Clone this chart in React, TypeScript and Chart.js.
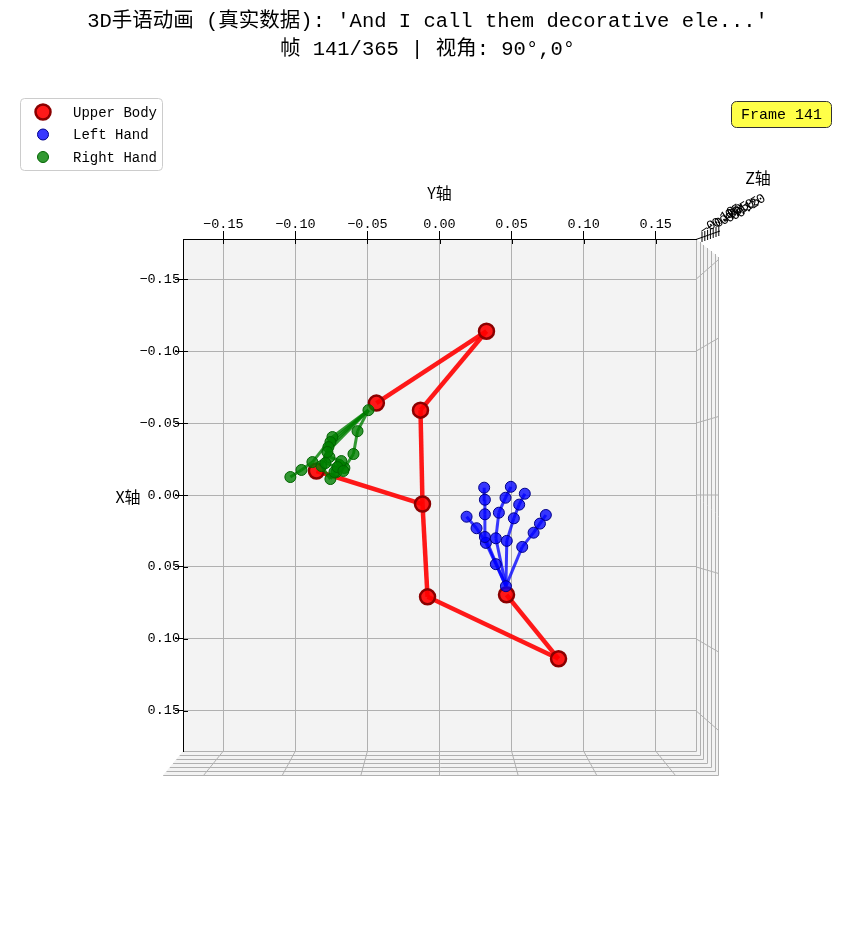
import React, { useEffect, useRef } from "react";
import { Chart, registerables } from "chart.js";

Chart.register(...registerables);

// ---------- data ----------
const titleLines = ["3D手语动画 (真实数据): 'And I call them decorative ele...'", "帧 141/365 | 视角: 90°,0°"];
const frameLabel = "Frame 141";
const legendLabels = ["Upper Body", "Left Hand", "Right Hand"];
const axisTitleH = "Y轴";
const axisTitleV = "X轴";
const axisTitleZ = "Z轴";
const tickValues = [-0.15, -0.1, -0.05, 0, 0.05, 0.1, 0.15];
const zTickLabels = ["−0.10", "−0.05", "0.00", "0.05", "0.10", "0.15", "0.20"];
const axisMin = -0.178;
const axisMax = 0.178;

// horizontal axis = Y, vertical axis = X
const bodyY = [0.0326, -0.0438, -0.0132, -0.0118, -0.0854, -0.0083, 0.0826, 0.0465];
const bodyX = [-0.1139, -0.0639, -0.059, 0.0063, -0.0167, 0.0708, 0.1139, 0.0694];
const bodyEdges = [[0, 1], [0, 2], [2, 3], [3, 4], [3, 5], [5, 6], [6, 7]];

const leftY = [0.0461, 0.0391, 0.0322, 0.0257, 0.0188, 0.0315, 0.0315, 0.0315, 0.031, 0.0391, 0.0412, 0.0458, 0.0495, 0.0467, 0.0516, 0.0553, 0.0592, 0.0574, 0.0653, 0.0697, 0.0738];
const leftX = [0.0634, 0.0481, 0.0333, 0.0231, 0.0151, 0.0292, 0.0134, 0.0033, -0.0051, 0.0301, 0.0123, 0.0019, -0.0057, 0.0319, 0.0162, 0.0067, -0.0009, 0.0361, 0.0262, 0.0199, 0.0139];

const rightY = [-0.0493, -0.0569, -0.0597, -0.066, -0.0715, -0.0743, -0.0882, -0.0958, -0.1035, -0.0757, -0.0819, -0.0757, -0.0694, -0.0771, -0.0764, -0.0681, -0.0729, -0.0778, -0.0792, -0.0708, -0.0667];
const rightX = [-0.059, -0.0444, -0.0285, -0.0188, -0.016, -0.0403, -0.0229, -0.0174, -0.0125, -0.0368, -0.0201, -0.0111, -0.0208, -0.0333, -0.0264, -0.0236, -0.016, -0.0299, -0.0222, -0.0194, -0.0167];

const handEdges = [
  [0, 1], [1, 2], [2, 3], [3, 4],
  [0, 5], [5, 6], [6, 7], [7, 8],
  [0, 9], [9, 10], [10, 11], [11, 12],
  [0, 13], [13, 14], [14, 15], [15, 16],
  [0, 17], [17, 18], [18, 19], [19, 20],
];

// ---------- styles ----------
const MONO = "'Liberation Mono', 'DejaVu Sans Mono', 'Noto Sans CJK SC', monospace";
const CJK = "'Noto Sans CJK SC', 'Liberation Mono', sans-serif";
const RED = "rgba(255,0,0,0.9)";
const BLUE = "rgba(0,0,255,0.78)";
const GREEN = "rgba(0,128,0,0.8)";
const PANE = "#f3f3f3";
const GRID = "#b0b0b0";

const W = 839;
const H = 916;

function fmt(v: number) {
  if (Math.abs(v) < 1e-9) return "0.00";
  return v.toFixed(2).replace("-", "−");
}

function pts(ys: number[], xs: number[]) {
  return ys.map((y, i) => ({ x: y, y: xs[i] }));
}

function edgeSets(ys: number[], xs: number[], edges: number[][], color: string, width: number, order: number) {
  return edges.map(([a, b]) => ({
    label: "",
    data: [{ x: ys[a], y: xs[a] }, { x: ys[b], y: xs[b] }],
    showLine: true,
    borderColor: color,
    borderWidth: width,
    pointRadius: 0,
    pointHoverRadius: 0,
    order,
  }));
}

const decorPlugin = {
  id: "decor",
  beforeDraw(chart: any) {
    const { ctx, chartArea: a, scales } = chart;
    ctx.save();
    const n = 6;
    ctx.fillStyle = PANE;
    ctx.beginPath();
    ctx.moveTo(a.left, a.bottom);
    ctx.lineTo(a.right, a.bottom);
    ctx.lineTo(a.right + 3.7 * n, a.bottom + 4 * n);
    ctx.lineTo(a.left - 3.3 * n, a.bottom + 4 * n);
    ctx.closePath();
    ctx.fill();
    ctx.beginPath();
    ctx.moveTo(a.right, a.top);
    ctx.lineTo(a.right + 3.7 * n, a.top + 3 * n);
    ctx.lineTo(a.right + 3.7 * n, a.bottom + 4 * n);
    ctx.lineTo(a.right, a.bottom);
    ctx.closePath();
    ctx.fill();
    ctx.fillRect(a.left, a.top, a.right - a.left, a.bottom - a.top);

    ctx.strokeStyle = GRID;
    ctx.lineWidth = 1;
    ctx.beginPath();
    ctx.moveTo(a.right + 0.5, a.top);
    ctx.lineTo(a.right + 0.5, a.bottom + 0.5);
    ctx.lineTo(a.left, a.bottom + 0.5);
    ctx.stroke();
    for (let i = 1; i <= n; i++) {
      const yy = Math.round(a.bottom + 4 * i) + 0.5;
      const xr = Math.round(a.right + 3.7 * i) + 0.5;
      ctx.beginPath();
      ctx.moveTo(a.left - 3.3 * i, yy);
      ctx.lineTo(xr, yy);
      ctx.lineTo(xr, a.top + 3 * i);
      ctx.stroke();
    }
    const cx = (a.left + a.right) / 2;
    const cy = (a.top + a.bottom) / 2;
    tickValues.forEach((v) => {
      const px = scales.x.getPixelForValue(v);
      ctx.beginPath();
      ctx.moveTo(px, a.bottom);
      ctx.lineTo(px + (px - cx) * 0.09, a.bottom + 4 * n);
      ctx.stroke();
      const py = scales.y.getPixelForValue(v);
      ctx.beginPath();
      ctx.moveTo(a.right, py);
      ctx.lineTo(a.right + 3.7 * n, py + (py - cy) * 0.09);
      ctx.stroke();
    });
    ctx.restore();
  },
  afterDraw(chart: any) {
    const { ctx, chartArea: a, scales } = chart;
    ctx.save();
    ctx.fillStyle = "#000";
    ctx.textAlign = "center";
    ctx.textBaseline = "middle";
    ctx.font = `20.5px ${MONO}`;
    ctx.fillText(titleLines[0], W / 2, 14);
    ctx.fillText(titleLines[1], W / 2, 42);

    ctx.strokeStyle = "#000";
    ctx.lineWidth = 1;
    tickValues.forEach((v) => {
      const px = Math.round(scales.x.getPixelForValue(v)) + 0.5;
      ctx.beginPath();
      ctx.moveTo(px, a.top);
      ctx.lineTo(px, a.top + 5);
      ctx.stroke();
      const py = Math.round(scales.y.getPixelForValue(v)) + 0.5;
      ctx.beginPath();
      ctx.moveTo(a.left, py);
      ctx.lineTo(a.left + 5, py);
      ctx.stroke();
    });

    ctx.font = `16px ${CJK}`;
    ctx.fillText(axisTitleH, (a.left + a.right) / 2, a.top - 46);
    ctx.fillText(axisTitleV, a.left - 55, (a.top + a.bottom) / 2 + 2);
    ctx.fillText(axisTitleZ, a.right + 62, a.top - 61);

    // z axis (seen edge-on)
    ctx.beginPath();
    ctx.moveTo(a.right, a.top + 0.5);
    ctx.lineTo(a.right + 24, a.top - 8);
    ctx.stroke();
    for (let i = 0; i < 7; i++) {
      const tx = a.right + 6 + i * 2.8;
      const ty = a.top - 2 - i * 1;
      ctx.beginPath();
      ctx.moveTo(tx, ty - 5);
      ctx.lineTo(tx, ty + 5);
      ctx.stroke();
    }
    ctx.font = `13.5px ${MONO}`;
    zTickLabels.forEach((t, i) => {
      ctx.save();
      ctx.translate(a.right + 22 + i * 5.5, a.top - 18 - i * 2.5);
      ctx.rotate(-0.6);
      ctx.fillText(t, 0, 0);
      ctx.restore();
    });

    // legend
    const lx = 12, ly = 90, lw = 142, lh = 72;
    ctx.beginPath();
    ctx.roundRect(lx + 0.5, ly + 0.5, lw, lh, 4);
    ctx.fillStyle = "rgba(255,255,255,0.85)";
    ctx.fill();
    ctx.strokeStyle = "#cccccc";
    ctx.stroke();
    const markers = [
      { fill: RED, stroke: "#8b0000", r: 7.5, bw: 2.5 },
      { fill: BLUE, stroke: "#00008b", r: 5.5, bw: 1 },
      { fill: GREEN, stroke: "#006400", r: 5.5, bw: 1 },
    ];
    ctx.font = `14px ${MONO}`;
    ctx.textAlign = "left";
    legendLabels.forEach((lab, i) => {
      const yy = ly + 14 + i * 22.5;
      const m = markers[i];
      ctx.beginPath();
      ctx.arc(lx + 23, yy, m.r, 0, Math.PI * 2);
      ctx.fillStyle = m.fill;
      ctx.fill();
      ctx.lineWidth = m.bw;
      ctx.strokeStyle = m.stroke;
      ctx.stroke();
      ctx.fillStyle = "#000";
      ctx.fillText(lab, lx + 53, yy + 1);
    });

    // frame box
    ctx.beginPath();
    ctx.roundRect(723.5, 93.5, 100, 26, 5);
    ctx.fillStyle = "#ffff48";
    ctx.fill();
    ctx.lineWidth = 1;
    ctx.strokeStyle = "#333333";
    ctx.stroke();
    ctx.fillStyle = "#000";
    ctx.textAlign = "center";
    ctx.font = `15px ${MONO}`;
    ctx.fillText(frameLabel, 773.5, 107.5);
    ctx.restore();
  },
};

export default function App() {
  const ref = useRef<HTMLCanvasElement | null>(null);

  useEffect(() => {
    if (!ref.current) return;
    const tickFont = { family: MONO, size: 13.5 };
    const datasets: any[] = [
      ...edgeSets(bodyY, bodyX, bodyEdges, RED, 4.5, 60),
      {
        label: legendLabels[0],
        data: pts(bodyY, bodyX),
        backgroundColor: RED,
        borderColor: "#8b0000",
        borderWidth: 2.5,
        pointRadius: 7.5,
        order: 50,
      },
      ...edgeSets(rightY, rightX, handEdges, GREEN, 3, 40),
      {
        label: legendLabels[2],
        data: pts(rightY, rightX),
        backgroundColor: GREEN,
        borderColor: "#006400",
        borderWidth: 1,
        pointRadius: 5.5,
        order: 30,
      },
      ...edgeSets(leftY, leftX, handEdges, BLUE, 3, 20),
      {
        label: legendLabels[1],
        data: pts(leftY, leftX),
        backgroundColor: BLUE,
        borderColor: "#00008b",
        borderWidth: 1,
        pointRadius: 5.5,
        order: 10,
      },
    ];
    const chart = new Chart(ref.current, {
      type: "scatter",
      data: { datasets },
      plugins: [decorPlugin],
      options: {
        responsive: false,
        animation: false,
        events: [],
        layout: { padding: { left: 175 - 60, top: 231 - 40, right: W - 688, bottom: H - 743 } },
        plugins: { legend: { display: false }, tooltip: { enabled: false }, title: { display: false } },
        scales: {
          x: {
            type: "linear",
            position: "top",
            min: axisMin,
            max: axisMax,
            afterBuildTicks: (s: any) => {
              s.ticks = tickValues.map((v) => ({ value: v }));
            },
            afterFit: (s: any) => {
              s.height = 40;
            },
            grid: { color: GRID, lineWidth: 1, tickLength: 8, tickColor: "#000", drawTicks: true },
            border: { display: true, color: "#000", width: 1 },
            ticks: { font: tickFont, color: "#000", padding: -2, maxRotation: 0, autoSkip: false, callback: (v: any) => fmt(Number(v)) },
          },
          y: {
            type: "linear",
            position: "left",
            reverse: true,
            min: axisMin,
            max: axisMax,
            afterBuildTicks: (s: any) => {
              s.ticks = tickValues.map((v) => ({ value: v }));
            },
            afterFit: (s: any) => {
              s.width = 60;
            },
            grid: { color: GRID, lineWidth: 1, tickLength: 8, tickColor: "#000", drawTicks: true },
            border: { display: true, color: "#000", width: 1 },
            ticks: { font: tickFont, color: "#000", padding: -5, autoSkip: false, callback: (v: any) => fmt(Number(v)) },
          },
        },
      },
    });
    return () => chart.destroy();
  }, []);

  return (
    <div style={{ width: W, height: H }}>
      <canvas ref={ref} width={W} height={H} style={{ display: "block" }} />
    </div>
  );
}
